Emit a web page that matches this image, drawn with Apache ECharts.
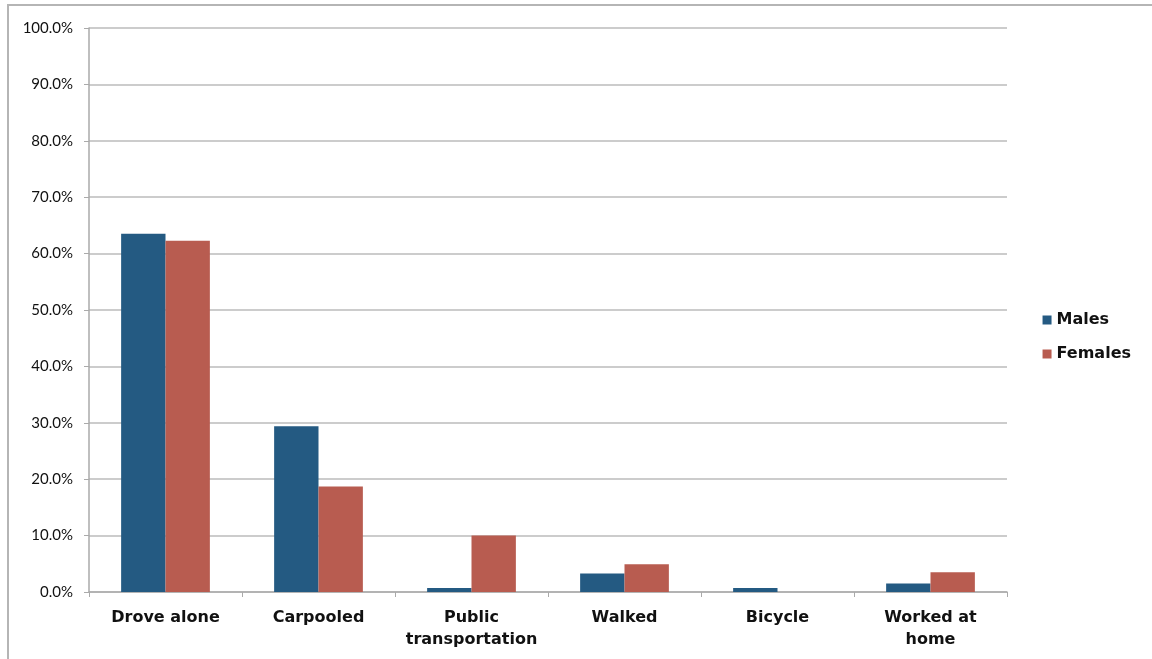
<!DOCTYPE html>
<html>
<head>
<meta charset="utf-8">
<script src="https://cdn.jsdelivr.net/npm/echarts@6/dist/echarts.min.js"></script>
<style>
html,body{margin:0;padding:0;background:#fff;}
#frame{position:absolute;left:7px;top:4px;width:1160px;height:680px;border:2px solid #b5b5b5;box-sizing:border-box;}
#chart{position:absolute;left:0;top:0;width:1152px;height:659px;}
</style>
</head>
<body>
<div id="frame"></div>
<div id="chart"></div>
<script>
const categories = ["Drove alone", "Carpooled", "Public\ntransportation", "Walked", "Bicycle", "Worked at\nhome"];
const males = [63.5, 29.4, 0.7, 3.3, 0.7, 1.5];
const females = [62.3, 18.7, 10.0, 4.9, 0, 3.5];
const seriesNames = ["Males", "Females"];

const chart = echarts.init(document.getElementById('chart'));
chart.setOption({
  animation: false,
  backgroundColor: 'transparent',
  grid: {left: 89, right: 145, top: 28, bottom: 67, containLabel: false},
  legend: {
    orient: 'vertical', right: 16, top: 307,
    itemWidth: 9, itemHeight: 9, itemGap: 18, padding: 5,
    icon: 'rect',
    textStyle: {fontFamily: 'DejaVu Sans', fontWeight: 'bold', fontSize: 16, color: '#111'},
    data: seriesNames
  },
  xAxis: {
    type: 'category', data: categories,
    axisLine: {lineStyle: {color: '#aaa', width: 1.5}},
    axisTick: {show: true, length: 5, lineStyle: {color: '#aaa'}},
    axisLabel: {margin: 15, fontFamily: 'DejaVu Sans', fontWeight: 'bold', fontSize: 16, color: '#111', lineHeight: 22, interval: 0}
  },
  yAxis: {
    type: 'value', min: 0, max: 100, interval: 10,
    axisLine: {show: true, lineStyle: {color: '#aaa', width: 1.5}},
    axisTick: {show: true, length: 5, lineStyle: {color: '#aaa'}},
    splitLine: {lineStyle: {color: '#bbb', width: 1.5}},
    axisLabel: {margin: 16, fontFamily: 'Lato', fontSize: 15, color: '#111', formatter: v => v.toFixed(1) + '%'}
  },
  series: [
    {name: seriesNames[0], type: 'bar', data: males, barGap: '0%', barCategoryGap: '42%',
     itemStyle: {color: '#245a82'}},
    {name: seriesNames[1], type: 'bar', data: females, barGap: '0%', barCategoryGap: '42%',
     itemStyle: {color: '#b85c50'}}
  ]
});
</script>
</body>
</html>
